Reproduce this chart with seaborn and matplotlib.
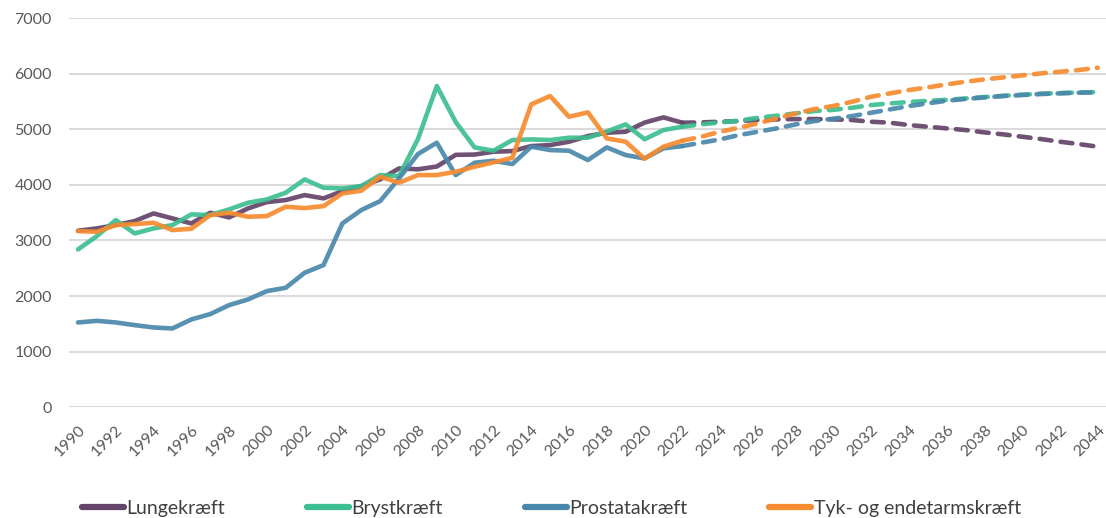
import pandas as pd
import seaborn as sns
import matplotlib.pyplot as plt

# registrerede tilfælde 1990-2022
years_hist = list(range(1990, 2023))
lunge_hist = [3174, 3216, 3276, 3348, 3486, 3396, 3306, 3498, 3414, 3576,
              3690, 3726, 3816, 3756, 3888, 3978, 4098, 4296, 4280, 4330,
              4540, 4545, 4596, 4608, 4698, 4716, 4776, 4878, 4938, 4956,
              5120, 5214, 5118]
bryst_hist = [2838, 3078, 3366, 3126, 3216, 3276, 3468, 3456, 3558, 3678,
              3738, 3858, 4098, 3948, 3936, 3978, 4176, 4158, 4824, 5778,
              5130, 4674, 4614, 4806, 4818, 4806, 4848, 4848, 4960, 5088,
              4820, 4986, 5046]
prostata_hist = [1524, 1553, 1524, 1476, 1434, 1416, 1578, 1674, 1836, 1938,
                 2088, 2148, 2418, 2556, 3306, 3546, 3708, 4116, 4554, 4758,
                 4176, 4398, 4434, 4374, 4686, 4626, 4614, 4446, 4674, 4536,
                 4476, 4656, 4698]
tyk_hist = [3168, 3156, 3276, 3294, 3318, 3186, 3210, 3456, 3498, 3426,
            3438, 3606, 3582, 3618, 3846, 3894, 4146, 4038, 4176, 4176,
            4236, 4326, 4404, 4488, 5448, 5598, 5226, 5304, 4836, 4776,
            4470, 4686, 4794]

# fremskrivning 2022-2044
years_proj = list(range(2022, 2045))
lunge_proj = [5118, 5124, 5136, 5148, 5166, 5178, 5184, 5184, 5178, 5166,
              5136, 5118, 5076, 5046, 5016, 4986, 4944, 4908, 4866, 4824,
              4776, 4734, 4686]
bryst_proj = [5046, 5088, 5124, 5154, 5208, 5244, 5286, 5328, 5350, 5388,
              5436, 5466, 5490, 5512, 5530, 5555, 5580, 5602, 5622, 5640,
              5652, 5662, 5670]
prostata_proj = [4698, 4758, 4818, 4896, 4956, 5016, 5088, 5148, 5190, 5238,
                 5298, 5358, 5418, 5466, 5514, 5544, 5574, 5598, 5616, 5634,
                 5646, 5658, 5664]
tyk_proj = [4794, 4866, 4956, 5028, 5106, 5196, 5286, 5364, 5420, 5496,
            5586, 5646, 5706, 5754, 5808, 5856, 5898, 5934, 5970, 6006,
            6036, 6066, 6108]

names = ["Lungekræft", "Brystkræft", "Prostatakræft", "Tyk- og endetarmskræft"]
colors = ["#644468", "#3dbe90", "#4a88ab", "#f78b30"]

hist = pd.DataFrame({
    "år": years_hist * 4,
    "antal": lunge_hist + bryst_hist + prostata_hist + tyk_hist,
    "type": [n for n in names for _ in years_hist],
})
proj = pd.DataFrame({
    "år": years_proj * 4,
    "antal": lunge_proj + bryst_proj + prostata_proj + tyk_proj,
    "type": [n for n in names for _ in years_proj],
})

sns.set_style("white")
plt.rcParams["font.family"] = ["Lato", "DejaVu Sans"]

fig = plt.figure(figsize=(11.06, 5.18), dpi=100)
ax = fig.add_axes([0.062, 0.214, 0.9391, 0.751])

pal = dict(zip(names, colors))
sns.lineplot(data=hist, x="år", y="antal", hue="type", hue_order=names,
             palette=pal, lw=3.3, alpha=0.92, solid_capstyle="round",
             ax=ax, legend=False)
sns.lineplot(data=proj, x="år", y="antal", hue="type", hue_order=names,
             palette=pal, lw=3.3, alpha=0.92, linestyle=(0, (2.6, 2.0)),
             dash_capstyle="round", ax=ax, legend=False)

ax.set_xlim(1989.5, 2044.5)
ax.set_ylim(0, 7000)
ax.set_yticks(range(0, 7001, 1000))
ax.set_xticks(range(1990, 2045, 2))
ax.set_xticklabels([str(y) for y in range(1990, 2045, 2)], rotation=45,
                   ha="right", va="top", rotation_mode="anchor")
ax.tick_params(axis="both", length=0, labelsize=11.5, labelcolor="#595959")
ax.tick_params(axis="y", pad=12)
ax.tick_params(axis="x", pad=11)
ax.set_xlabel("")
ax.set_ylabel("")
ax.yaxis.grid(True, color="#d9d9d9", lw=1.4)
ax.xaxis.grid(False)
for s in ax.spines.values():
    s.set_visible(False)

handles = [plt.Line2D([], [], color=c, lw=4.5, solid_capstyle="round")
           for c in colors]
ax.legend(handles, names, ncol=4, loc="center left",
          bbox_to_anchor=(0.0741, 0.018), bbox_transform=fig.transFigure,
          frameon=False, fontsize=14, labelcolor="#404040",
          handlelength=2.15, handletextpad=0.15, columnspacing=4.2,
          borderpad=0, borderaxespad=0)

fig.savefig("out.png", dpi=100)
